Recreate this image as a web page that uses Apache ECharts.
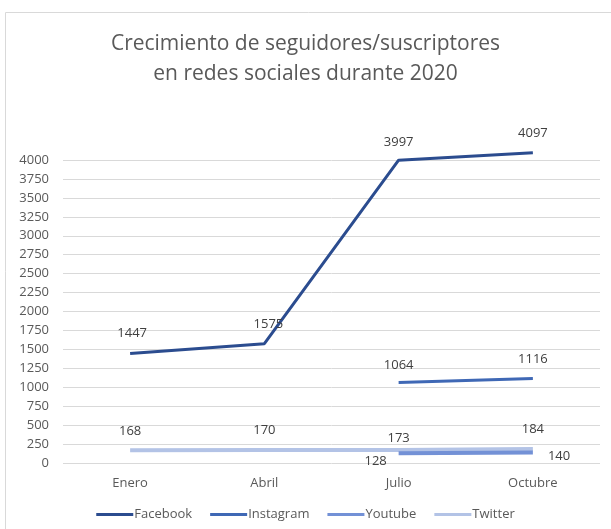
<!DOCTYPE html>
<html>
<head>
<meta charset="utf-8">
<script src="https://cdn.jsdelivr.net/npm/echarts@6/dist/echarts.min.js"></script>
<style>
  html, body { margin: 0; padding: 0; background: #fff; }
  #chart { width: 611px; height: 529px; }
</style>
</head>
<body>
<div id="chart"></div>
<script>
const months = ['Enero', 'Abril', 'Julio', 'Octubre']
const facebook = [1447, 1575, 3997, 4097]
const instagram = [null, null, 1064, 1116]
const youtube = [null, null, 128, 140]
const twitter = [168, 170, 173, 184]

const font = 'Open Sans'
const textColor = '#595959'

// per-point label nudges so the numbers sit like in the original
const fbShift = [[2, -9], [4, -8], [0, -6], [0, -8]]
const igShift = [null, null, [0, -6], [0, -8]]
const twShift = [[0, -7], [0, -8], [0, 0], [0, -8]]

function withLabels(values, shifts, base) {
  return values.map((v, i) => {
    if (v == null) return null
    const s = shifts[i] || [0, 0]
    return { value: v, label: Object.assign({}, base, { offset: s }) }
  })
}

const labelBase = { show: true, position: 'top', color: '#404040', fontSize: 13, fontFamily: font }

const chart = echarts.init(document.getElementById('chart'))
chart.setOption({
  animation: false,
  textStyle: { fontFamily: font },
  title: {
    text: 'Crecimiento de seguidores/suscriptores\nen redes sociales durante 2020',
    left: 'center',
    top: 24,
    textStyle: { fontFamily: font, fontSize: 21, fontWeight: 'normal', color: textColor, lineHeight: 30 }
  },
  graphic: [{
    type: 'rect',
    shape: { x: 5.5, y: 12.5, width: 700, height: 600 },
    style: { fill: 'none', stroke: '#d9d9d9', lineWidth: 1 },
    silent: true
  }],
  legend: {
    bottom: 3,
    left: 'center',
    icon: 'rect',
    itemWidth: 37,
    itemHeight: 3,
    itemGap: 18,
    textStyle: { fontFamily: font, fontSize: 13, color: textColor, padding: [0, 0, 0, -4] },
    data: ['Facebook', 'Instagram', 'Youtube', 'Twitter']
  },
  grid: { left: 63, right: 11, top: 160, bottom: 66 },
  xAxis: {
    type: 'category',
    data: months,
    boundaryGap: true,
    axisLine: { show: false },
    axisTick: { show: false },
    axisLabel: { color: textColor, fontSize: 13, margin: 14, fontFamily: font }
  },
  yAxis: {
    type: 'value',
    min: 0,
    max: 4000,
    interval: 250,
    axisLine: { show: false },
    axisTick: { show: false },
    axisLabel: { color: textColor, fontSize: 13, margin: 14, fontFamily: font, formatter: v => String(v) },
    splitLine: { lineStyle: { color: '#d9d9d9', width: 1 } }
  },
  series: [
    {
      name: 'Facebook', type: 'line', clip: false, symbol: 'circle', symbolSize: 0,
      data: withLabels(facebook, fbShift, labelBase),
      lineStyle: { width: 3, color: '#2b4c8f' }, itemStyle: { color: '#2b4c8f' }
    },
    {
      name: 'Instagram', type: 'line', clip: false, symbol: 'circle', symbolSize: 0,
      data: withLabels(instagram, igShift, labelBase),
      lineStyle: { width: 3, color: '#3f68b5' }, itemStyle: { color: '#3f68b5' }
    },
    {
      name: 'Twitter', type: 'line', clip: false, symbol: 'circle', symbolSize: 0,
      data: withLabels(twitter, twShift, labelBase),
      lineStyle: { width: 4, color: '#b3c3e6' }, itemStyle: { color: '#b3c3e6' }
    },
    {
      name: 'Youtube', type: 'line', clip: false, symbol: 'circle', symbolSize: 0,
      data: youtube.map((v, i) => {
        if (v == null) return null
        if (i === 2) return { value: v, label: Object.assign({}, labelBase, { position: 'bottom', offset: [-23, -4] }) }
        return { value: v, label: Object.assign({}, labelBase, { position: 'right', distance: 15, offset: [0, 4] }) }
      }),
      lineStyle: { width: 4, color: '#7391d6' }, itemStyle: { color: '#7391d6' }
    }
  ]
})
</script>
</body>
</html>
